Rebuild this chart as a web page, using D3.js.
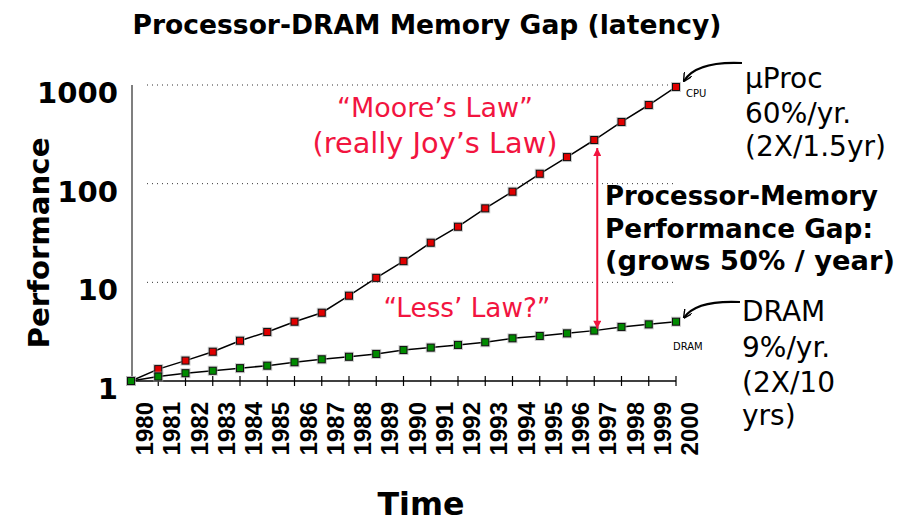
<!DOCTYPE html>
<html lang="en">
<head>
<meta charset="utf-8"/>
<title>Processor-DRAM Memory Gap</title>
<script src="https://cdn.jsdelivr.net/npm/d3@7"></script>
<style>
  body { margin: 0; background: #fff; }
  svg { display: block; }
</style>
</head>
<body>
<svg id="chart"></svg>
<script>
// data
const years = [1980, 1981, 1982, 1983, 1984, 1985, 1986, 1987, 1988, 1989, 1990,
               1991, 1992, 1993, 1994, 1995, 1996, 1997, 1998, 1999, 2000]
const cpuPerf = [1, 1.32, 1.61, 1.98, 2.56, 3.14, 3.99, 4.92, 7.32, 11.1, 16.4,
                 25.2, 36.6, 56.2, 82.9, 126, 186, 277, 422, 627, 955]
const dramPerf = [1, 1.11, 1.20, 1.27, 1.35, 1.43, 1.55, 1.66, 1.76, 1.88, 2.06,
                  2.18, 2.32, 2.47, 2.71, 2.86, 3.04, 3.24, 3.53, 3.75, 3.99]
const yTicks = [1, 10, 100, 1000]

const width = 916
const height = 524
const red = '#f2143f'
const comic = '"Comic Sans MS", "DejaVu Sans", sans-serif'

const svg = d3.select('#chart')
  .attr('width', width)
  .attr('height', height)

const x = d3.scaleLinear().domain([1980, 2000]).range([131, 676])
const y = d3.scaleLog().domain([1, 1000]).range([381, 85])

// squeeze / stretch a text to a target width by its font size
function fit(sel, w) {
  const node = sel.node()
  const fs = parseFloat(sel.attr('font-size'))
  const len = node.getComputedTextLength()
  sel.attr('font-size', (fs * w / len).toFixed(2))
  return sel
}

// title
fit(svg.append('text')
  .attr('x', 427).attr('y', 34)
  .attr('text-anchor', 'middle')
  .attr('font-family', comic).attr('font-weight', 'bold')
  .attr('font-size', 26)
  .text('Processor-DRAM Memory Gap (latency)'), 589)

// dotted grid lines
svg.append('g')
  .selectAll('line')
  .data(yTicks.slice(1))
  .join('line')
  .attr('x1', 147).attr('x2', x(2000))
  .attr('y1', d => y(d)).attr('y2', d => y(d))
  .attr('stroke', '#333')
  .attr('stroke-dasharray', '1,4')

// y axis
svg.append('line')
  .attr('x1', 132).attr('x2', 132)
  .attr('y1', y(1000)).attr('y2', y(1))
  .attr('stroke', '#555').attr('stroke-width', 1.5)

const yLab = svg.append('g')
  .selectAll('text')
  .data(yTicks)
  .join('text')
  .attr('x', 118)
  .attr('y', d => y(d) + 18)
  .attr('text-anchor', 'end')
  .attr('font-family', comic).attr('font-weight', 'bold')
  .attr('font-size', 32)
  .text(d => d)
// size all labels from the widest one
const lab1000 = yLab.filter(d => d === 1000)
const fs1000 = 32 * 81 / lab1000.node().getComputedTextLength()
yLab.attr('font-size', fs1000.toFixed(2))

// x axis
svg.append('line')
  .attr('x1', x(1980)).attr('x2', x(2000))
  .attr('y1', 381).attr('y2', 381)
  .attr('stroke', '#000').attr('stroke-width', 1.5)

svg.append('g')
  .selectAll('line')
  .data(years.slice(1))
  .join('line')
  .attr('x1', d => x(d)).attr('x2', d => x(d))
  .attr('y1', 376).attr('y2', 386)
  .attr('stroke', '#000').attr('stroke-width', 1.2)

svg.append('g')
  .selectAll('text')
  .data(years)
  .join('text')
  .attr('transform', d => `translate(${x(d) + 22},402) rotate(-90)`)
  .attr('text-anchor', 'end')
  .attr('font-family', '"Liberation Sans", Arial, sans-serif')
  .attr('font-weight', 'bold')
  .attr('font-size', 24)
  .text(d => d)

// axis titles
fit(svg.append('text')
  .attr('transform', 'translate(49,243) rotate(-90)')
  .attr('text-anchor', 'middle')
  .attr('font-family', comic).attr('font-weight', 'bold')
  .attr('font-size', 32)
  .text('Performance'), 211)

fit(svg.append('text')
  .attr('x', 421).attr('y', 515)
  .attr('text-anchor', 'middle')
  .attr('font-family', comic).attr('font-weight', 'bold')
  .attr('font-size', 36)
  .text('Time'), 87)

// series lines and markers
const line = d3.line()
  .x((d, i) => x(years[i]))
  .y(d => y(d))

function series(values, fill) {
  svg.append('path')
    .datum(values)
    .attr('d', line)
    .attr('fill', 'none')
    .attr('stroke', '#000')
    .attr('stroke-width', 1.5)

  const g = svg.append('g')
  g.selectAll('rect.halo')
    .data(values)
    .join('rect')
    .attr('class', 'halo')
    .attr('x', (d, i) => x(years[i]) - 5)
    .attr('y', d => y(d) - 5)
    .attr('width', 10).attr('height', 10)
    .attr('fill', '#aaa').attr('opacity', 0.6)
  g.selectAll('rect.mark')
    .data(values)
    .join('rect')
    .attr('class', 'mark')
    .attr('x', (d, i) => x(years[i]) - 3.5)
    .attr('y', d => y(d) - 3.5)
    .attr('width', 7).attr('height', 7)
    .attr('fill', fill)
    .attr('stroke', '#111').attr('stroke-width', 1)
}
series(cpuPerf, '#e00000')
series(dramPerf, '#008a00')

// small series labels
svg.append('text')
  .attr('x', 686).attr('y', 97)
  .attr('font-family', comic).attr('font-size', 10)
  .text('CPU')
svg.append('text')
  .attr('x', 673).attr('y', 350)
  .attr('font-family', comic).attr('font-size', 10)
  .text('DRAM')

// red annotations
const redText = (tx, ty, str, w) => fit(svg.append('text')
  .attr('x', tx).attr('y', ty)
  .attr('text-anchor', 'middle')
  .attr('font-family', comic)
  .attr('font-size', 28)
  .attr('fill', red)
  .text(str), w)
redText(435, 117, '\u201cMoore\u2019s Law\u201d', 196)
redText(435, 153, '(really Joy\u2019s Law)', 245)
redText(467, 317, '\u201cLess\u2019 Law?\u201d', 167)

// gap arrow between the series in 1997
const defs = svg.append('defs')
defs.append('marker')
  .attr('id', 'redhead')
  .attr('viewBox', '0 0 10 10')
  .attr('refX', 10).attr('refY', 5)
  .attr('markerWidth', 4.5).attr('markerHeight', 4)
  .attr('markerUnits', 'strokeWidth')
  .attr('orient', 'auto-start-reverse')
  .append('path')
  .attr('d', 'M0,0 L10,5 L0,10 Z')
  .attr('fill', red)

const gx = x(1997) + 3
svg.append('line')
  .attr('x1', gx).attr('x2', gx)
  .attr('y1', y(cpuPerf[17]) + 8)
  .attr('y2', y(dramPerf[17]) - 2)
  .attr('stroke', red).attr('stroke-width', 2)
  .attr('marker-start', 'url(#redhead)')
  .attr('marker-end', 'url(#redhead)')

// bold gap text
const gapLines = ['Processor-Memory', 'Performance Gap:', '(grows 50% / year)']
const gapY = [205, 238, 270]
const gapW = [273, 268, 290]
gapLines.forEach((s, i) => {
  fit(svg.append('text')
    .attr('x', 605).attr('y', gapY[i])
    .attr('font-family', comic).attr('font-weight', 'bold')
    .attr('font-size', 26)
    .text(s), gapW[i])
})

// right-side notes
const cpuNote = ['\u00b5Proc', '60%/yr.', '(2X/1.5yr)']
const cpuNoteY = [88, 123, 156]
const dramNote = ['DRAM', '9%/yr.', '(2X/10', 'yrs)']
const dramNoteY = [321, 357, 392, 425]

cpuNote.forEach((s, i) => {
  svg.append('text')
    .attr('x', 745).attr('y', cpuNoteY[i])
    .attr('font-family', comic).attr('font-size', 28)
    .text(s)
})
dramNote.forEach((s, i) => {
  svg.append('text')
    .attr('x', 742).attr('y', dramNoteY[i])
    .attr('font-family', comic).attr('font-size', 28)
    .text(s)
})

// curved pointers to the last points
defs.append('marker')
  .attr('id', 'vee')
  .attr('viewBox', '0 0 10 10')
  .attr('refX', 9).attr('refY', 5)
  .attr('markerWidth', 4).attr('markerHeight', 4)
  .attr('orient', 'auto')
  .append('path')
  .attr('d', 'M0,0 L10,5 L0,10')
  .attr('fill', 'none').attr('stroke', '#000').attr('stroke-width', 1.6)

const curve = (x0, y0, x1, y1) => {
  const p = d3.path()
  p.moveTo(x0, y0)
  p.quadraticCurveTo(x1 + 12, y0 - 2, x1, y1)
  return p.toString()
}
const cx = x(2000)
svg.append('path')
  .attr('d', curve(742, 63, cx + 8, y(cpuPerf[20]) - 6))
  .attr('fill', 'none').attr('stroke', '#000').attr('stroke-width', 2.2)
  .attr('marker-end', 'url(#vee)')
svg.append('path')
  .attr('d', curve(740, 302, cx + 8, y(dramPerf[20]) - 4))
  .attr('fill', 'none').attr('stroke', '#000').attr('stroke-width', 2.2)
  .attr('marker-end', 'url(#vee)')
</script>
</body>
</html>
